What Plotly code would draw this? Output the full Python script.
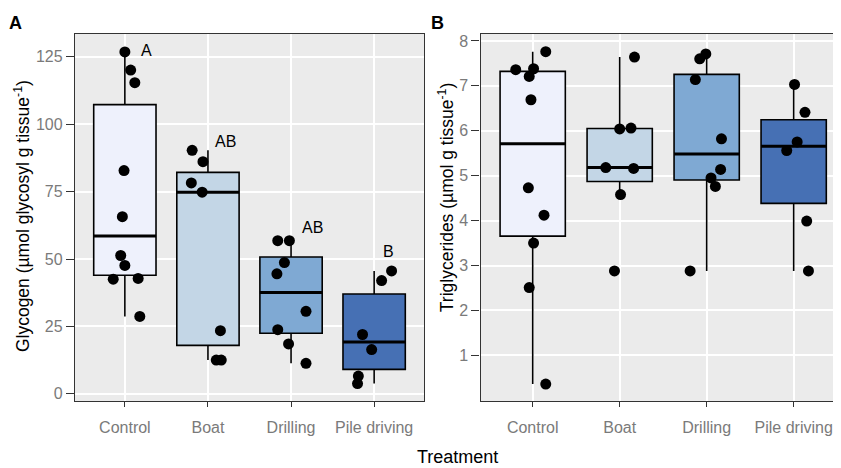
import numpy as np
import plotly.graph_objects as go

categories = ["Control", "Boat", "Drilling", "Pile driving"]
fill_colors = ["#EEF1FC", "#C3D6E6", "#7FA9D3", "#4670B4"]

# Panel A: glycogen
gly_control = [126.8, 120.1, 115.4, 82.8, 65.7, 51.3, 47.6, 42.5, 42.8, 28.7]
gly_boat = [90.3, 86.1, 78.2, 74.8, 23.4, 12.5, 12.5]
gly_drilling = [56.8, 56.8, 48.7, 44.5, 30.6, 23.8, 18.5, 11.3]
gly_pile = [45.6, 42.0, 22.0, 16.4, 6.6, 3.8]

gly_jit_control = [0.0, 0.07, 0.12, -0.01, -0.03, -0.05, 0.0, -0.14, 0.16, 0.18]
gly_jit_boat = [-0.19, -0.06, -0.2, -0.07, 0.15, 0.10, 0.16]
gly_jit_drilling = [-0.16, -0.02, -0.08, -0.17, 0.18, -0.16, -0.03, 0.18]
gly_jit_pile = [0.21, 0.09, -0.14, -0.03, -0.19, -0.2]

gly_letters = ["A", "AB", "AB", "B"]
gly_letter_x = [1.266, 2.213, 3.256, 4.177]
gly_letter_y = [127.2, 93.6, 61.6, 52.7]

# Panel B: triglycerides
tri_control = [7.36, 7.38, 7.21, 7.76, 6.69, 4.73, 4.12, 3.50, 2.51, 0.36]
tri_boat = [7.64, 6.04, 6.06, 5.18, 5.16, 4.58, 2.88]
tri_drilling = [7.60, 7.71, 7.14, 5.82, 5.14, 4.95, 4.76, 2.88]
tri_pile = [7.03, 6.41, 5.75, 5.56, 3.99, 2.88]

tri_jit_control = [-0.195, 0.01, -0.04, 0.15, -0.02, -0.05, 0.13, 0.01, -0.04, 0.15]
tri_jit_boat = [0.17, 0.0, 0.13, -0.16, 0.16, 0.01, -0.06]
tri_jit_drilling = [-0.08, -0.01, -0.13, 0.17, 0.16, 0.05, 0.10, -0.19]
tri_jit_pile = [0.01, 0.13, 0.04, -0.08, 0.15, 0.17]

gly_data = [gly_control, gly_boat, gly_drilling, gly_pile]
gly_jit = [gly_jit_control, gly_jit_boat, gly_jit_drilling, gly_jit_pile]
tri_data = [tri_control, tri_boat, tri_drilling, tri_pile]
tri_jit = [tri_jit_control, tri_jit_boat, tri_jit_drilling, tri_jit_pile]

BOX_W = 0.75
FONT = "Liberation Sans, Arial, sans-serif"
TICK_COL = "#7a7a7a"

# page has an 8px body margin; figure fills the rest of the 841x468 window
OFF = 8
W, H = 841 - OFF, 468 - OFF


def px(x):
    return (x - OFF) / W


def py(y):
    return 1 - (y - OFF) / H


def box_stats(v):
    v = np.asarray(v, dtype=float)
    q1, med, q3 = np.percentile(v, [25, 50, 75])
    iqr = q3 - q1
    lo = v[v >= q1 - 1.5 * iqr].min()
    hi = v[v <= q3 + 1.5 * iqr].max()
    return q1, med, q3, lo, hi


fig = go.Figure()

panels = [("x", "y", gly_data, gly_jit), ("x2", "y2", tri_data, tri_jit)]

for xa, ya, data, jit in panels:
    for i, vals in enumerate(data):
        q1, med, q3, lo, hi = box_stats(vals)
        fig.add_trace(go.Box(
            x=[i + 1], q1=[q1], median=[med], q3=[q3], lowerfence=[lo], upperfence=[hi],
            width=BOX_W, whiskerwidth=0, fillcolor=fill_colors[i],
            line=dict(color="black", width=1.6), boxpoints=False,
            xaxis=xa, yaxis=ya, showlegend=False, hoverinfo="skip"))

for xa, ya, data, jit in panels:
    for i, vals in enumerate(data):
        q1, med, q3, lo, hi = box_stats(vals)
        fig.add_trace(go.Scatter(
            x=[i + 1 - BOX_W / 2, i + 1 + BOX_W / 2], y=[med, med], mode="lines",
            line=dict(color="black", width=3), xaxis=xa, yaxis=ya,
            showlegend=False, hoverinfo="skip"))

for xa, ya, data, jit in panels:
    for i, vals in enumerate(data):
        fig.add_trace(go.Scatter(
            x=[i + 1 + j for j in jit[i]], y=vals, mode="markers",
            marker=dict(color="black", size=11),
            xaxis=xa, yaxis=ya, showlegend=False, hoverinfo="skip"))

yd = [py(402), py(33)]

common_x = dict(
    tickmode="array", tickvals=[1, 2, 3, 4], ticktext=categories,
    showgrid=True, gridcolor="white", gridwidth=1.5, zeroline=False,
    showline=True, linecolor="#333333", linewidth=1.3,
    ticks="outside", ticklen=5, tickcolor="#333333", tickwidth=1.3,
    tickfont=dict(family=FONT, size=16, color=TICK_COL),
    ticklabelstandoff=6, fixedrange=True)
common_y = dict(
    showgrid=True, gridcolor="white", gridwidth=1.5, zeroline=False,
    showline=True, linecolor="#333333", linewidth=1.3,
    ticks="outside", ticklen=8, tickcolor="#333333", tickwidth=1.3,
    tickfont=dict(family=FONT, size=16, color=TICK_COL), fixedrange=True)


def label(text, x, y, size, angle=0):
    return dict(text=text, x=px(x), y=py(y), xref="paper", yref="paper",
                xanchor="center", yanchor="middle", textangle=angle, showarrow=False,
                font=dict(family=FONT, size=size, color="black"))


annotations = [
    label("<b>A</b>", 16, 22, 18),
    label("<b>B</b>", 437.5, 22, 18),
    label("Glycogen (µmol glycosyl g tissue<sup>-1</sup>)", 22, 216, 17.5, -90),
    label("Triglycerides (µmol g tissue<sup>-1</sup>)", 446, 198, 17.5, -90),
    label("Treatment", 457, 458, 18),
]
for t, lx, ly in zip(gly_letters, gly_letter_x, gly_letter_y):
    annotations.append(dict(text=t, x=lx, y=ly, xref="x", yref="y", xanchor="center",
                            yanchor="middle", showarrow=False,
                            font=dict(family=FONT, size=16, color="black")))

fig.update_layout(
    width=W, height=H,
    margin=dict(l=0, r=0, t=0, b=0),
    paper_bgcolor="white", plot_bgcolor="#EBEBEB",
    xaxis=dict(common_x, domain=[px(75), px(424)], range=[0.4, 4.6], mirror=True, anchor="y"),
    yaxis=dict(common_y, domain=yd, range=[-2.77, 133.5], tickvals=[0, 25, 50, 75, 100, 125],
               mirror=True, anchor="x"),
    xaxis2=dict(common_x, domain=[px(480.5), 1.0], range=[0.4, 4.544], mirror=True, anchor="y2"),
    yaxis2=dict(common_y, domain=yd, range=[-0.022, 8.156], tickvals=[1, 2, 3, 4, 5, 6, 7, 8],
                anchor="x2"),
    annotations=annotations,
)

fig.write_html("out.html")
